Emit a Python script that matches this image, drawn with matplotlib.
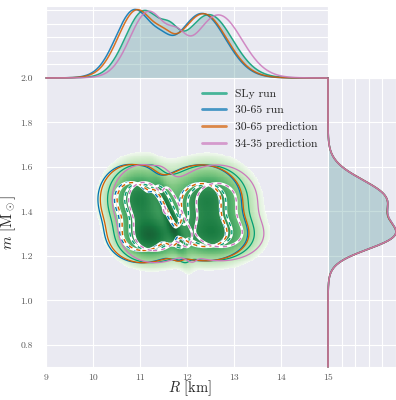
import numpy as np
import matplotlib.pyplot as plt
import seaborn as sns
from matplotlib.lines import Line2D
from matplotlib.ticker import MultipleLocator
from matplotlib.colors import PowerNorm

sns.set_style('darkgrid')
plt.rcParams['font.family'] = 'serif'
plt.rcParams['font.serif'] = ['cmr10']
plt.rcParams['mathtext.fontset'] = 'cm'
plt.rcParams['axes.unicode_minus'] = False

# series
labels = ['SLy run', '30-65 run', '30-65 prediction', '34-35 prediction']
colors = ['#029e73', '#0173b2', '#d55e00', '#cc78bc']

# mixture components of the SLy density (R [km], m [Msun], widths, correlation, weight, group)
comp_R = [10.97, 11.20, 11.65, 12.45, 12.55, 11.90]
comp_m = [1.46, 1.285, 1.37, 1.46, 1.29, 1.38]
comp_sR = [0.37, 0.37, 0.18, 0.47, 0.50, 0.85]
comp_sm = [0.085, 0.062, 0.10, 0.085, 0.064, 0.12]
comp_rho = [0.0, 0.0, -0.85, 0.0, 0.0, 0.0]
comp_w = [0.21, 0.17, 0.05, 0.25, 0.19, 0.10]
comp_group = ['left', 'left', 'mid', 'right', 'right', 'mid']

# per-series lobe offsets in R and weight of the connecting arm
left_shift = [0.0, -0.20, -0.15, 0.10]
right_shift = [0.0, -0.15, -0.12, 0.20]
arm_w = [0.045, 0.025, 0.03, 0.045]

R = np.linspace(9, 15, 481)
M = np.linspace(0.7, 2.0, 331)
RR, MM = np.meshgrid(R, M)


def gauss(x, mu, s):
    return np.exp(-0.5 * ((x - mu) / s) ** 2) / (s * np.sqrt(2 * np.pi))


def gauss2d(r0, m0, sr, sm, rho):
    zr = (RR - r0) / sr
    zm = (MM - m0) / sm
    q = (zr ** 2 - 2 * rho * zr * zm + zm ** 2) / (1 - rho ** 2)
    return np.exp(-q / 2) / (2 * np.pi * sr * sm * np.sqrt(1 - rho ** 2))


def series_density(i):
    Z = np.zeros_like(RR)
    fR = np.zeros_like(R)
    fm = np.zeros_like(M)
    ws = [arm_w[i] if comp_rho[k] < -0.5 else comp_w[k] for k in range(len(comp_w))]
    tot = sum(ws)
    for k in range(len(comp_R)):
        shift = {'left': left_shift[i], 'right': right_shift[i],
                 'mid': 0.5 * (left_shift[i] + right_shift[i])}[comp_group[k]]
        w = ws[k] / tot
        Z += w * gauss2d(comp_R[k] + shift, comp_m[k], comp_sR[k], comp_sm[k], comp_rho[k])
        fR += w * gauss(R, comp_R[k] + shift, comp_sR[k])
        fm += w * gauss(M, comp_m[k], comp_sm[k])
    return Z, fR, fm


def mass_level(Z, p):
    z = np.sort(Z.ravel())[::-1]
    c = np.cumsum(z)
    c /= c[-1]
    return z[np.searchsorted(c, p)]


dens = [series_density(i) for i in range(4)]

fig = plt.figure(figsize=(3.96, 4.0), dpi=100)
ax = fig.add_axes([0.1162, 0.0825, 0.7121, 0.7225])
ax_top = fig.add_axes([0.1162, 0.805, 0.7121, 0.18], sharex=ax)
ax_right = fig.add_axes([0.8283, 0.0825, 0.1717, 0.7225], sharey=ax)

# filled SLy density
Z0 = dens[0][0]
low = mass_level(Z0, 0.975)
ax.pcolormesh(R, M, np.ma.masked_less(Z0, low), cmap='Greens', alpha=0.9,
              shading='auto', norm=PowerNorm(0.5, vmin=low, vmax=Z0.max() * 1.05),
              rasterized=True)

for i in range(4):
    Z = dens[i][0]
    outer = mass_level(Z, 0.9)
    inner = mass_level(Z, 0.55)
    ax.contour(RR, MM, Z, levels=[outer], colors=colors[i], linewidths=0.9)
    ax.contour(RR, MM, Z, levels=[inner], colors='white', linewidths=1.8)
    ax.contour(RR, MM, Z, levels=[inner], colors=colors[i], linewidths=1.0,
               linestyles=[(0, (3, 3))])

ax.set_xlim(9, 15)
ax.set_ylim(0.7, 2.0)
ax.set_xticks(range(9, 16))
ax.set_yticks([0.8, 1.0, 1.2, 1.4, 1.6, 1.8, 2.0])
ax.set_yticklabels(['0.8', '1.0', '1.2', '1.4', '1.6', '1.8', '2.0'])
ax.tick_params(axis='x', labelsize=7, labelcolor='0.35', pad=1.5)
ax.tick_params(axis='y', labelsize=7, labelcolor='0.35', pad=6)
ax.set_xlabel(r'$R$ [km]', fontsize=10.5, va='center')
ax.xaxis.set_label_coords(0.51, -0.072)
ax.set_ylabel(r'$m$ [M$_\odot$]', fontsize=11, va='center')
ax.yaxis.set_label_coords(-0.133, 0.5)

handles = [Line2D([], [], color=c, lw=2, alpha=0.7) for c in colors]
ax.legend(handles, labels, loc='upper right', frameon=False, fontsize=8.4,
          handlelength=2.05, handletextpad=0.77, labelspacing=0.56,
          borderaxespad=0.5)

# top marginal (R)
fR0 = dens[0][1]
ax_top.fill_between(R, 0, fR0, color='cadetblue', alpha=0.35, lw=0)
for i in range(4):
    ax_top.plot(R, dens[i][1], color=colors[i], lw=1.1, alpha=0.85,
                clip_on=False, zorder=3)
top = max(d[1].max() for d in dens)
ax_top.set_ylim(0, top * 1.05)
ax_top.yaxis.set_major_locator(MultipleLocator(top / 5.05))
ax_top.tick_params(labelbottom=False, labelleft=False)

# right marginal (m)
fm0 = dens[0][2]
ax_right.fill_betweenx(M, 0, fm0, color='cadetblue', alpha=0.35, lw=0)
for i in range(4):
    ax_right.plot(dens[i][2], M, color=colors[i], lw=1.1, alpha=0.85,
                  clip_on=False, zorder=3)
side = max(d[2].max() for d in dens)
ax_right.set_xlim(0, side)
ax_right.xaxis.set_major_locator(MultipleLocator(side / 5.0))
ax_right.tick_params(labelbottom=False, labelleft=False)

fig.savefig('out.png', dpi=100)
